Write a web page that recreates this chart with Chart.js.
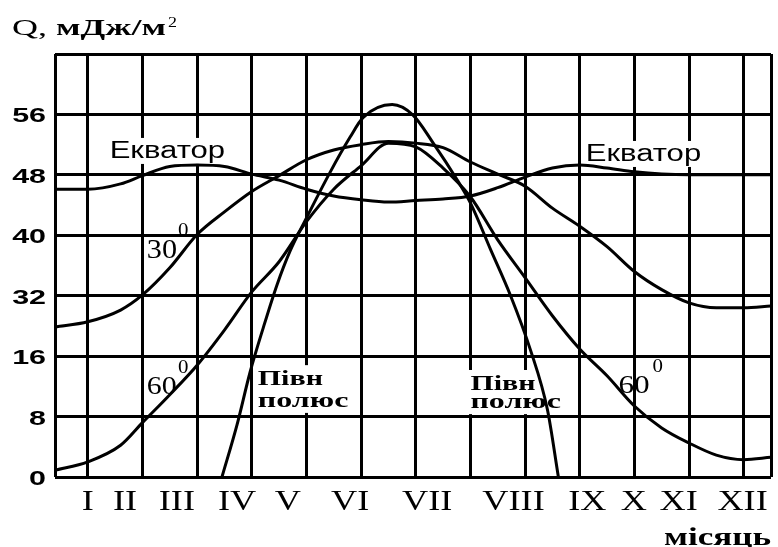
<!DOCTYPE html>
<html>
<head>
<meta charset="utf-8">
<script src="https://cdn.jsdelivr.net/npm/chart.js@4.4.0/dist/chart.umd.min.js"></script>
<style>
  html, body { margin: 0; padding: 0; background: #fff; }
</style>
</head>
<body>
<canvas id="myChart" width="778" height="547"></canvas>
<script>
// printed y labels, bottom to top (the original jumps 16 -> 32 in one step)
const yLabels = ['0', '8', '16', '32', '40', '48', '56'];

const months = ['I', 'II', 'III', 'IV', 'V', 'VI', 'VII', 'VIII', 'IX', 'X', 'XI', 'XII'];
// where each month name sits, in grid-column units (0 = first inner line)
const monthAt = [0, 0.68, 1.63, 2.73, 3.66, 4.8, 6.21, 7.79, 9.14, 9.99, 10.81, 11.98];

// sample points along x, grid-column units
const xs = [-0.6, 0, 0.6, 1, 1.5, 2, 2.5, 3, 3.5, 4, 4.5, 5, 5.5, 6, 6.5, 7, 7.5, 8, 8.5, 9, 9.5, 10, 10.5, 11, 11.5, 12, 12.5];

// Q, MJ/m2
const equator = [46.1, 46.1, 46.8, 47.9, 49.1, 49.3, 49.1, 48.1, 47.3, 46.1, 45.2, 44.7, 44.4, 44.6, 44.8, 45.2, 46.3, 47.7, 48.9, 49.3, 48.9, 48.4, 48.1, 48, 48, 48, 48];
const lat30 = [23.7, 25.1, 28.2, 32.1, 35.7, 40.1, 43.1, 45.8, 47.9, 50.0, 51.3, 52.0, 52.4, 52.2, 51.6, 49.7, 48.1, 46.5, 43.6, 41.2, 38.5, 35.2, 32.8, 30.1, 28.8, 28.8, 29.3];
const lat60 = [0.9, 2.0, 4.2, 7.2, 10.9, 14.8, 22.9, 32.5, 36.5, 41.8, 46.1, 49.2, 52.2, 51.7, 48.9, 45.1, 39.4, 34.4, 26.7, 17.9, 13.4, 9.4, 6.5, 4.5, 2.9, 2.3, 2.6];

// north pole only has sun between spring and autumn
const poleX = [2.455, 2.73, 2.97, 3.21, 3.46, 3.70, 3.98, 4.43, 4.80, 5.04, 5.57, 5.95, 6.32, 6.76, 7.0, 7.37, 7.73, 8.10, 8.41, 8.61];
const pole = [0, 6.9, 13.9, 23.5, 33.4, 37.9, 42.0, 48.3, 53.0, 55.6, 57.3, 55.9, 52.2, 47.3, 44.3, 38.1, 32.1, 17.6, 8.9, 0];

const xMin = -0.6, xMax = 12.5;

// printed value -> gridline index (step 8, except 16..32 in one step)
function qToAxis(q) {
    if (q <= 16) return q / 8;
    if (q <= 32) return 2 + (q - 16) / 16;
    return 3 + (q - 32) / 8;
}

function series(xv, qv) {
    return {
        data: xv.map((x, i) => ({ x: x, y: qToAxis(qv[i]) })),
        borderColor: '#000',
        borderWidth: 3,
        pointRadius: 0,
        fill: false,
        cubicInterpolationMode: 'monotone'
    };
}

// stretched text, the scan is wider than normal type
function wide(ctx, text, x, y, font, sx, align) {
    ctx.save();
    ctx.font = font;
    ctx.textBaseline = 'alphabetic';
    const w = ctx.measureText(text).width * sx;
    const left = align === 'right' ? x - w : align === 'center' ? x - w / 2 : x;
    ctx.translate(left, y);
    ctx.scale(sx, 1);
    ctx.fillStyle = '#000';
    ctx.fillText(text, 0, 0);
    ctx.restore();
    return w;
}

const serif = '"Liberation Serif", "DejaVu Serif", serif';
const sans = '"Liberation Sans", Arial, sans-serif';

// labels on the plot, placed in axis units
const notes = [
    { text: 'Екватор', x: 0.40, y: 5.28, font: '23px ' + sans, sx: 1.35, box: true },
    { text: 'Екватор', x: 9.11, y: 5.23, font: '23px ' + sans, sx: 1.35, box: true },
    { text: '30', x: 1.08, y: 3.63, font: '27px ' + serif, sx: 1.12 },
    { text: '0', x: 1.65, y: 3.99, font: '19px ' + serif, sx: 1.1 },
    { text: '60', x: 1.08, y: 1.38, font: '26px ' + serif, sx: 1.15 },
    { text: '0', x: 1.65, y: 1.72, font: '19px ' + serif, sx: 1.1 },
    { text: '60', x: 9.71, y: 1.39, font: '26px ' + serif, sx: 1.2 },
    { text: '0', x: 10.33, y: 1.74, font: '19px ' + serif, sx: 1.1 },
    { text: 'Півн', x: 3.11, y: 1.52, font: 'bold 20px ' + serif, sx: 1.5, box: true },
    { text: 'полюс', x: 3.11, y: 1.16, font: 'bold 20px ' + serif, sx: 1.6, box: true },
    { text: 'Півн', x: 7.0, y: 1.44, font: 'bold 20px ' + serif, sx: 1.5, box: true },
    { text: 'полюс', x: 7.0, y: 1.14, font: 'bold 20px ' + serif, sx: 1.6, box: true }
];

const paper = {
    id: 'paper',
    beforeDatasetsDraw(chart) {
        const ctx = chart.ctx, xs_ = chart.scales.x, ys_ = chart.scales.y;
        ctx.save();
        ctx.fillStyle = '#fff';
        notes.forEach(n => {
            if (!n.box) return;
            ctx.font = n.font;
            const w = ctx.measureText(n.text).width * n.sx;
            const px = xs_.getPixelForValue(n.x), py = ys_.getPixelForValue(n.y);
            ctx.fillRect(px - 4, py - 20, w + 8, 26);
        });
        ctx.restore();
    },
    afterDatasetsDraw(chart) {
        const ctx = chart.ctx, xs_ = chart.scales.x, ys_ = chart.scales.y;
        notes.forEach(n => {
            wide(ctx, n.text, xs_.getPixelForValue(n.x), ys_.getPixelForValue(n.y), n.font, n.sx);
        });
        // y labels
        yLabels.forEach((t, i) => {
            wide(ctx, t, 46, ys_.getPixelForValue(i) + 8, 'bold 21px ' + sans, 1.45, 'right');
        });
        // month labels
        months.forEach((m, i) => {
            wide(ctx, m, xs_.getPixelForValue(monthAt[i]), 510, '29px ' + serif, 1.25, 'center');
        });
        // axis titles
        const w = wide(ctx, 'Q, ', 12, 35, '24px ' + serif, 1.5);
        const w2 = wide(ctx, 'мДж/м', 12 + w, 35, 'bold 24px ' + serif, 1.5);
        wide(ctx, '2', 14 + w + w2, 27, '15px ' + serif, 1.2);
        wide(ctx, 'місяць', 664, 545, 'bold 26px ' + serif, 1.35);
    }
};

new Chart(document.getElementById('myChart'), {
    type: 'line',
    data: {
        datasets: [
            series(xs, equator),
            series(xs, lat30),
            series(xs, lat60),
            series(poleX, pole)
        ]
    },
    options: {
        responsive: false,
        animation: false,
        layout: { padding: { top: 54, right: 7, left: 0, bottom: 0 } },
        plugins: {
            legend: { display: false },
            tooltip: { enabled: false }
        },
        scales: {
            x: {
                type: 'linear',
                min: xMin,
                max: xMax,
                afterBuildTicks: function (s) {
                    const t = [xMin];
                    for (let i = 0; i <= 12; i++) t.push(i);
                    t.push(xMax);
                    s.ticks = t.map(v => ({ value: v }));
                },
                afterFit: function (s) { s.height = 70; },
                ticks: { display: false },
                grid: { color: '#000', lineWidth: 3, drawTicks: false },
                border: { display: false }
            },
            y: {
                min: 0,
                max: 7,
                afterBuildTicks: function (s) {
                    s.ticks = [0, 1, 2, 3, 4, 5, 6, 7].map(v => ({ value: v }));
                },
                afterFit: function (s) { s.width = 55; },
                ticks: { display: false },
                grid: { color: '#000', lineWidth: 3, drawTicks: false },
                border: { display: false }
            }
        }
    },
    plugins: [paper]
});
</script>
</body>
</html>
